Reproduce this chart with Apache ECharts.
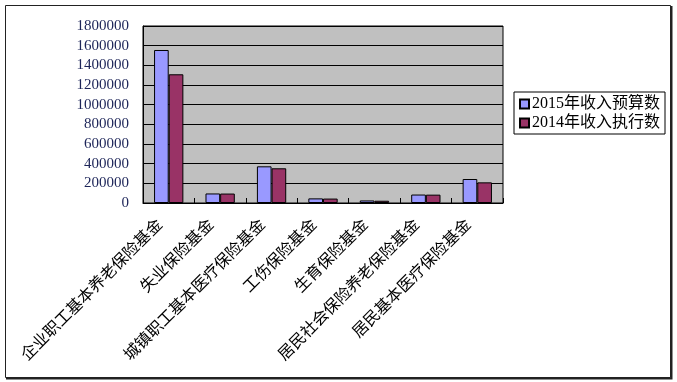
<!DOCTYPE html>
<html><head><meta charset="utf-8">
<script src="https://cdn.jsdelivr.net/npm/echarts@6/dist/echarts.min.js"></script>
<style>html,body{margin:0;padding:0;background:#fff}#c{width:677px;height:382px}</style>
</head><body><div id="c"></div>
<script>
const categories = ['企业职工基本养老保险基金','失业保险基金','城镇职工基本医疗保险基金','工伤保险基金','生育保险基金','居民社会保险养老保险基金','居民基本医疗保险基金'];
const seriesNames = ['2015年收入预算数','2014年收入执行数'];
const budget2015 = [1556000, 97000, 373000, 47000, 26000, 86000, 244000];
const actual2014 = [1309000, 96000, 353000, 45000, 23000, 85000, 210000];
const yTicks = {min: 0, max: 1800000, interval: 200000};

const chart = echarts.init(document.getElementById('c'));
const serif = '"Liberation Serif","DejaVu Serif","Noto Sans CJK SC",serif';
chart.setOption({
  animation: false,
  backgroundColor: '#fff',
  graphic: [
    {type:'rect', shape:{x:5.5,y:5.5,width:665,height:372}, style:{fill:'none',stroke:'#222',lineWidth:1}},
    {type:'polyline', shape:{points:[[671.5,6],[671.5,378.5],[6,378.5]]}, style:{fill:'none',stroke:'#222',lineWidth:2}}
  ],
  grid: {left:143, right:174, top:26, bottom:179, show:true, backgroundColor:'#c0c0c0', borderColor:'#000', borderWidth:1},
  legend: {
    orient:'vertical', left:514, top:92,
    data: seriesNames,
    borderColor:'#000', borderWidth:1, padding:[4,5,3,5], itemGap:3,
    icon:'rect', itemWidth:9, itemHeight:9,
    textStyle:{fontSize:16, color:'#000', fontFamily:serif, padding:[0,0,0,-2]}
  },
  xAxis: {
    type:'category', data: categories,
    axisLine:{show:true, lineStyle:{color:'#000'}},
    axisTick:{show:true, inside:true, length:5, lineStyle:{color:'#000'}},
    axisLabel:{rotate:45, interval:0, margin:11, padding:[0,12,0,0], fontSize:16, color:'#000', fontFamily:serif}
  },
  yAxis: {
    type:'value', min:yTicks.min, max:yTicks.max, interval:yTicks.interval,
    axisLine:{show:true, lineStyle:{color:'#000'}},
    axisTick:{show:false},
    splitLine:{show:true, lineStyle:{color:'#000', width:1}},
    axisLabel:{margin:14, fontSize:15, color:'#1c2458', fontFamily:serif, formatter: v => String(v)}
  },
  series: [
    {name:seriesNames[0], type:'bar', data:budget2015, barGap:'0%', barCategoryGap:'43%',
     itemStyle:{color:'#9999ff', borderColor:'#000', borderWidth:1}},
    {name:seriesNames[1], type:'bar', data:actual2014,
     itemStyle:{color:'#993366', borderColor:'#000', borderWidth:1}}
  ]
});
</script></body></html>
